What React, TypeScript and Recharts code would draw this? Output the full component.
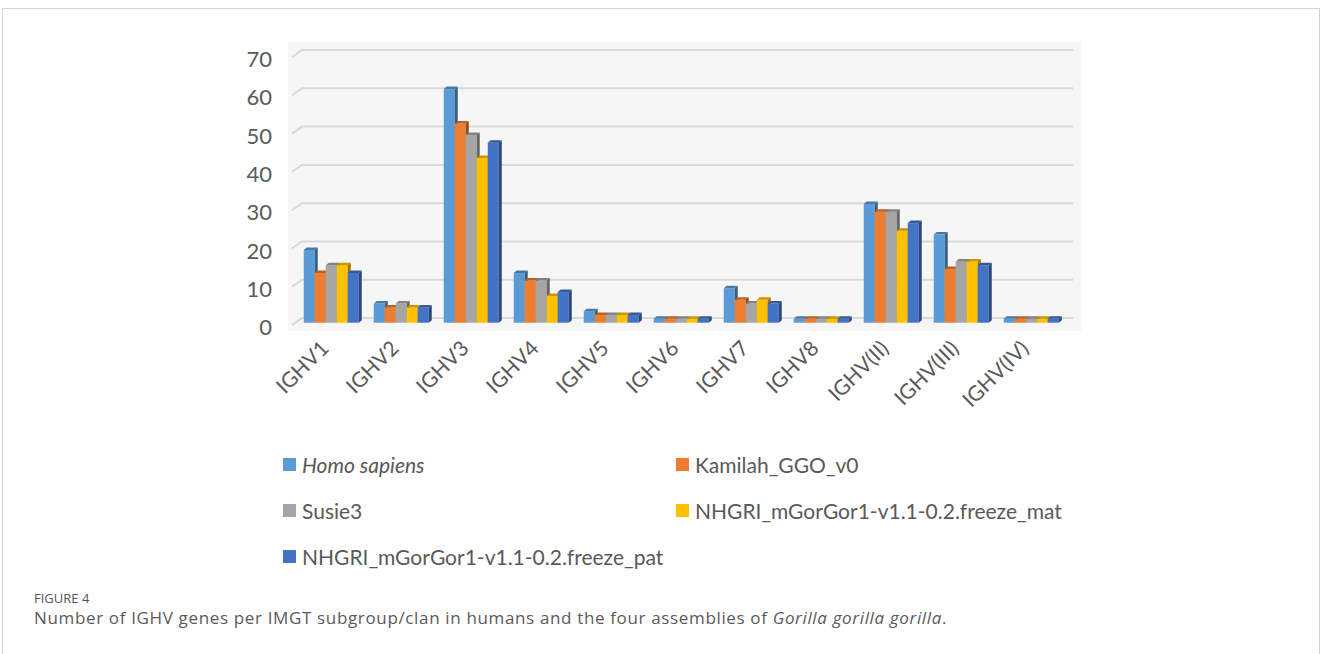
import { BarChart, Bar, XAxis, YAxis, CartesianGrid } from "recharts";

// IGHV subgroups / clans on the category axis
const CATEGORIES = [
  "IGHV1", "IGHV2", "IGHV3", "IGHV4", "IGHV5", "IGHV6",
  "IGHV7", "IGHV8", "IGHV(II)", "IGHV(III)", "IGHV(IV)",
];

// gene counts per assembly, same order as CATEGORIES
const HOMO_SAPIENS = [19, 5, 61, 13, 3, 1, 9, 1, 31, 23, 1];
const KAMILAH = [13, 4, 52, 11, 2, 1, 6, 1, 29, 14, 1];
const SUSIE3 = [15, 5, 49, 11, 2, 1, 5, 1, 29, 16, 1];
const FREEZE_MAT = [15, 4, 43, 7, 2, 1, 6, 1, 24, 16, 1];
const FREEZE_PAT = [13, 4, 47, 8, 2, 1, 5, 1, 26, 15, 1];

const Y_TICKS = [0, 10, 20, 30, 40, 50, 60, 70];

const SERIES = [
  { key: "homo", name: "Homo sapiens", italic: true, values: HOMO_SAPIENS, color: "#5B9BD5" },
  { key: "kamilah", name: "Kamilah_GGO_v0", italic: false, values: KAMILAH, color: "#ED7D31" },
  { key: "susie", name: "Susie3", italic: false, values: SUSIE3, color: "#A5A5A5" },
  { key: "mat", name: "NHGRI_mGorGor1-v1.1-0.2.freeze_mat", italic: false, values: FREEZE_MAT, color: "#FFC000" },
  { key: "pat", name: "NHGRI_mGorGor1-v1.1-0.2.freeze_pat", italic: false, values: FREEZE_PAT, color: "#4472C4" },
];

const data = CATEGORIES.map((cat, i) => {
  const row: Record<string, string | number> = { cat };
  SERIES.forEach((s) => (row[s.key] = s.values[i]));
  return row;
});

const FONT = "Lato, 'Noto Sans', sans-serif";
const TEXT = "#595959";

// darken a hex colour by a factor
function shade(hex: string, f: number) {
  const n = parseInt(hex.slice(1), 16);
  const r = Math.round(((n >> 16) & 255) * f);
  const g = Math.round(((n >> 8) & 255) * f);
  const b = Math.round((n & 255) * f);
  return `rgb(${r},${g},${b})`;
}

// column with a shallow top and right face, like an office 3-D column
const DX = 3;
const DY = 2.5;
function Column3D(props: any) {
  const { x, y, width, height, fill } = props;
  if (height == null || height <= 0) return null;
  const r = x + width;
  const b = y + height;
  return (
    <g>
      <rect x={x} y={y} width={width} height={height} fill={fill} />
      <polygon
        points={`${x},${y} ${x + DX},${y - DY} ${r + DX},${y - DY} ${r},${y}`}
        fill={shade(fill, 0.78)}
      />
      <polygon
        points={`${r},${y} ${r + DX},${y - DY} ${r + DX},${b - DY} ${r},${b}`}
        fill={shade(fill, 0.62)}
      />
    </g>
  );
}

// gridlines sit on the back wall, with a short slanted run on the side wall
function WallLine(props: any) {
  const { x1, x2, y1 } = props;
  const back = y1 - 4.6;
  return (
    <path
      key={props.key}
      d={`M${x1 - 3},${y1 + 2.4} L${x1 + 7},${back} L${x2 + 8},${back}`}
      stroke="#d9d9d9"
      strokeWidth={2}
      fill="none"
    />
  );
}

function YTick(props: any) {
  const { x, y, payload } = props;
  return (
    <text x={x} y={y + 4} textAnchor="end" dominantBaseline="central" fill={TEXT} fontSize={22} fontFamily={FONT}>
      {payload.value}
    </text>
  );
}

function XTick(props: any) {
  const { x, y, payload } = props;
  const ax = x - 6;
  const ay = y + 2;
  return (
    <text
      x={ax}
      y={ay}
      transform={`rotate(-45 ${ax} ${ay})`}
      textAnchor="end"
      dominantBaseline="central"
      fill={TEXT}
      fontSize={21}
      fontFamily={FONT}
    >
      {payload.value}
    </text>
  );
}

function LegendItem({ s, left, top }: { s: (typeof SERIES)[number]; left: number; top: number }) {
  return (
    <div style={{ position: "absolute", left, top, display: "flex", alignItems: "center", whiteSpace: "nowrap" }}>
      <span style={{ width: 13, height: 13, background: s.color, display: "inline-block", marginRight: 6 }} />
      <span style={{ fontSize: 21, color: TEXT, fontFamily: FONT, fontStyle: s.italic ? "italic" : "normal" }}>
        {s.name}
      </span>
    </div>
  );
}

export default function App() {
  const legendPos = [
    { left: 283, top: 452 },
    { left: 676, top: 452 },
    { left: 283, top: 498 },
    { left: 676, top: 498 },
    { left: 283, top: 544 },
  ];
  return (
    <div style={{ position: "absolute", left: 0, top: 0, width: 1327, height: 654, background: "#fff", overflow: "hidden" }}>
      {/* figure frame */}
      <div
        style={{
          position: "absolute",
          left: 2,
          top: 8,
          width: 1316,
          height: 700,
          borderTop: "1px solid #d4d4d4",
          borderLeft: "1px solid #d4d4d4",
          borderRight: "1px solid #d4d4d4",
        }}
      />
      {/* back wall */}
      <div style={{ position: "absolute", left: 288, top: 42, width: 793, height: 289, background: "#f6f6f6" }} />
      <div style={{ position: "absolute", left: 0, top: 0 }}>
        <BarChart
          width={1327}
          height={654}
          data={data}
          margin={{ top: 54.6, right: 262, bottom: 251.3, left: 255 }}
          barCategoryGap="12.5%"
          barGap={0}
        >
          <CartesianGrid vertical={false} horizontal={WallLine} />
          <XAxis
            dataKey="cat"
            height={80}
            axisLine={false}
            tickLine={false}
            tickSize={0}
            tickMargin={19}
            interval={0}
            tick={XTick}
          />
          <YAxis
            domain={[0, 70]}
            ticks={Y_TICKS}
            width={40}
            axisLine={false}
            tickLine={false}
            tickSize={0}
            tickMargin={23}
            tick={YTick}
          />
          {SERIES.map((s) => (
            <Bar key={s.key} dataKey={s.key} name={s.name} fill={s.color} shape={Column3D} isAnimationActive={false} />
          ))}
        </BarChart>
      </div>
      {SERIES.map((s, i) => (
        <LegendItem key={s.key} s={s} left={legendPos[i].left} top={legendPos[i].top} />
      ))}
      <div
        style={{
          position: "absolute",
          left: 34,
          top: 589,
          fontFamily: "'Open Sans', sans-serif",
          fontSize: 13,
          color: "#555",
        }}
      >
        FIGURE 4
      </div>
      <div
        style={{
          position: "absolute",
          left: 34,
          top: 606,
          fontFamily: "'Open Sans', sans-serif",
          fontSize: 17,
          letterSpacing: 0.65,
          color: "#5a5a5a",
          whiteSpace: "nowrap",
        }}
      >
        Number of IGHV genes per IMGT subgroup/clan in humans and the four assemblies of <i>Gorilla gorilla gorilla</i>.
      </div>
    </div>
  );
}
